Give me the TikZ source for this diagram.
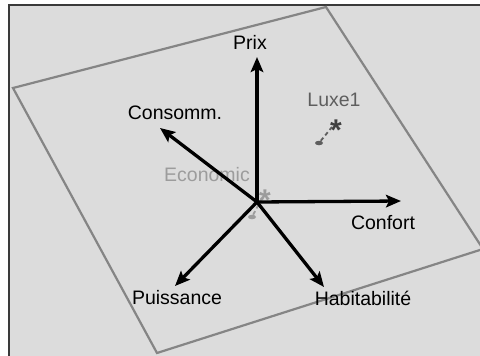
\documentclass[tikz,border=0pt]{standalone}
\usepackage{fontspec}
\setmainfont{Liberation Sans}
\usetikzlibrary{arrows.meta,shapes.geometric}
\definecolor{bg}{HTML}{DCDCDC}
\definecolor{plane}{HTML}{858585}
\definecolor{econ}{HTML}{9C9C9C}
\definecolor{luxe}{HTML}{5E5E5E}
\definecolor{luxestar}{HTML}{404040}
\definecolor{framec}{HTML}{3A3A3A}
\tikzset{
  axis/.style={line width=3.3pt,-{Stealth[length=15pt,width=12.5pt,inset=3pt]}},
  lbl/.style={font=\fontsize{19.5}{21}\selectfont,inner sep=0pt,text=black},
  star/.style={font=\fontsize{30}{30}\selectfont\bfseries,inner sep=0pt},
  pdot/.style={ellipse,fill,minimum width=8pt,minimum height=4.5pt,inner sep=0pt},
}
\begin{document}
\begin{tikzpicture}[x=1pt,y=-1pt]
\useasboundingbox (0,0) rectangle (480,356);
\fill[white] (0,0) rectangle (480,356);
\fill[bg] (9,5) rectangle (480,356);
\draw[framec,line width=2pt] (9,356) -- (9,5) -- (480,5);
% plane
\draw[plane,line width=2.2pt,line join=miter] (13,88) -- (326,7) -- (483,249) -- (157,353) -- cycle;
% Economic
\node[lbl,text=econ] (econlbl) at (207,175) {Economic};
\node[pdot,econ] (econdot) at (252,217) {};
\coordinate (econstar) at (262,198);
\node[star,text=econ] (econstarg) at (265,200) {*};
\draw[econ,line width=1.8pt,dash pattern=on 4pt off 3pt] (econdot) -- (econstar);
% Luxe1
\node[lbl,text=luxe] (luxelbl) at (334,100) {Luxe1};
\node[pdot,luxe] (luxedot) at (319,143) {};
\coordinate (luxestarc) at (332,127);
\node[star,text=luxestar] (luxestarg) at (336,130) {*};
\draw[luxe,line width=1.8pt,dash pattern=on 4pt off 3pt] (luxedot) -- (luxestarc);
% axes
\coordinate (O) at (257,202);
\coordinate (tprix) at (257,57);
\coordinate (tconf) at (401,201);
\coordinate (tcons) at (160,128);
\coordinate (tpuis) at (175,286);
\coordinate (thab) at (324,287);
\draw[axis] (O) -- (tprix);
\draw[axis] (O) -- (tconf);
\draw[axis] (O) -- (tcons);
\draw[axis] (O) -- (tpuis);
\draw[axis] (O) -- (thab);
% labels
\node[lbl] (prix) at (250,42) {Prix};
\node[lbl] (conf) at (383,223) {Confort};
\node[lbl] (cons) at (175,113) {Consomm.};
\node[lbl] (puis) at (177,298) {Puissance};
\node[lbl] (hab) at (363,298) {Habitabilité};
\end{tikzpicture}
\end{document}
